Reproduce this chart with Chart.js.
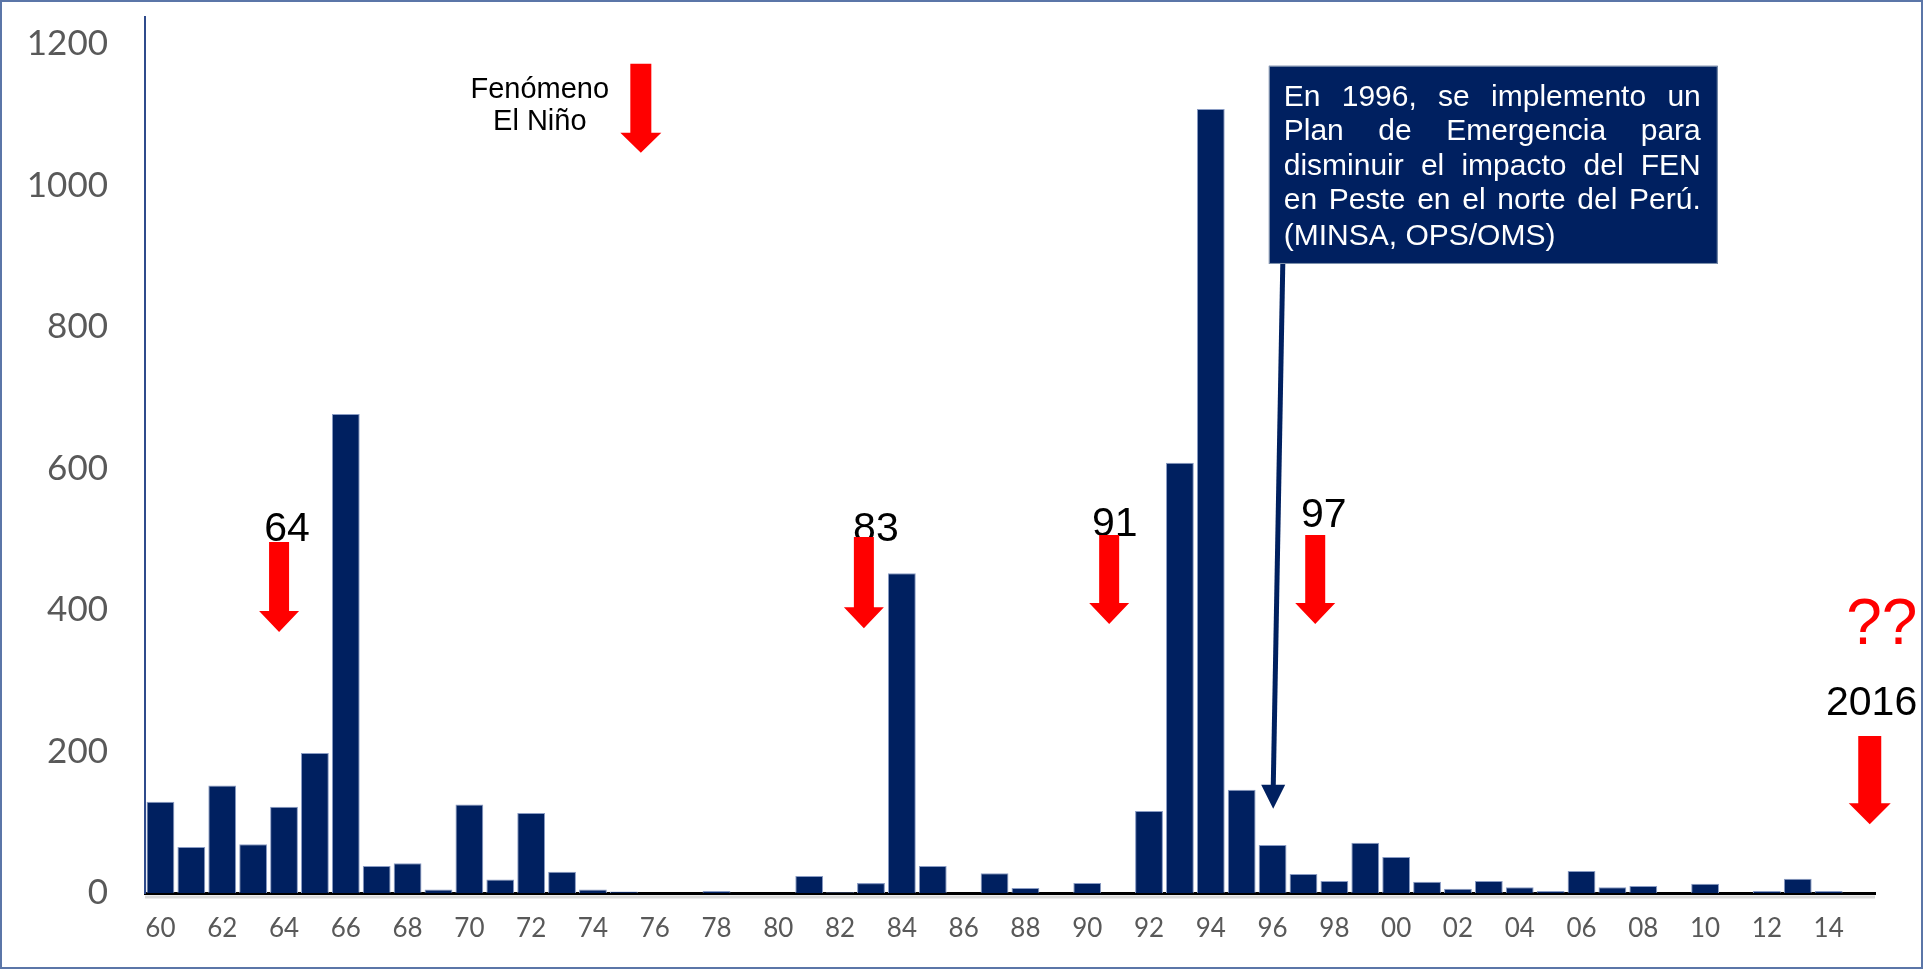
<!DOCTYPE html>
<html lang="es">
<head>
<meta charset="utf-8">
<title>Casos de peste - Perú</title>
<script src="https://cdn.jsdelivr.net/npm/chart.js@4.4.1/dist/chart.umd.min.js"></script>
<style>
    html, body { margin: 0; padding: 0; background: #ffffff; overflow: hidden; }
    canvas { display: block; }
</style>
</head>
<body>
<canvas id="pesteChart" width="1923" height="969"></canvas>
<script>
// años (dos dígitos) 1960 - 2015
const anios = [
    '60', '61', '62', '63', '64', '65', '66', '67', '68', '69',
    '70', '71', '72', '73', '74', '75', '76', '77', '78', '79',
    '80', '81', '82', '83', '84', '85', '86', '87', '88', '89',
    '90', '91', '92', '93', '94', '95', '96', '97', '98', '99',
    '00', '01', '02', '03', '04', '05', '06', '07', '08', '09',
    '10', '11', '12', '13', '14', '15'
];

// casos por año
const casos = [
    129, 65, 152, 69, 122, 198, 677, 38, 42, 5,
    125, 19, 113, 30, 5, 2, 0, 0, 3, 0,
    0, 24, 1, 14, 452, 38, 0, 28, 7, 0,
    14, 0, 116, 608, 1108, 146, 68, 27, 17, 71,
    51, 16, 6, 17, 8, 3, 31, 8, 10, 0,
    13, 0, 3, 20, 3, 0
];

const ticksY = [0, 200, 400, 600, 800, 1000, 1200];

// años con Fenómeno El Niño
const eventosNino = ['64', '83', '91', '97', '2016'];

const textoCaja = [
    'En 1996, se implemento un',
    'Plan de Emergencia para',
    'disminuir el impacto del FEN',
    'en Peste en el norte del Perú.',
    '(MINSA, OPS/OMS)'
];

const AZUL = '#002060';
const ROJO = '#ff0000';

function flechaRoja(ctx, cx, yTop, yTip, shaftW, headW, headL) {
    ctx.save();
    ctx.fillStyle = ROJO;
    ctx.beginPath();
    ctx.moveTo(cx - shaftW / 2, yTop);
    ctx.lineTo(cx + shaftW / 2, yTop);
    ctx.lineTo(cx + shaftW / 2, yTip - headL);
    ctx.lineTo(cx + headW / 2, yTip - headL);
    ctx.lineTo(cx, yTip);
    ctx.lineTo(cx - headW / 2, yTip - headL);
    ctx.lineTo(cx - shaftW / 2, yTip - headL);
    ctx.closePath();
    ctx.fill();
    ctx.restore();
}

function lineaJustificada(ctx, linea, x, y, ancho, justificar) {
    const palabras = linea.split(' ');
    if (!justificar || palabras.length < 2) {
        ctx.fillText(linea, x, y);
        return;
    }
    const total = palabras.reduce((s, p) => s + ctx.measureText(p).width, 0);
    const hueco = (ancho - total) / (palabras.length - 1);
    let px = x;
    palabras.forEach(p => {
        ctx.fillText(p, px, y);
        px += ctx.measureText(p).width + hueco;
    });
}

const anotaciones = {
    id: 'anotaciones',
    beforeDraw(chart) {
        const ctx = chart.ctx;
        ctx.save();
        ctx.fillStyle = '#ffffff';
        ctx.fillRect(0, 0, chart.width, chart.height);
        ctx.restore();
    },
    afterDatasetsDraw(chart) {
        const ctx = chart.ctx;
        const x = chart.scales.x;
        const y = chart.scales.y;
        const px = i => x.getPixelForValue(i);
        const py = v => y.getPixelForValue(v);

        // sombra gris bajo el eje X
        ctx.save();
        ctx.strokeStyle = '#d9d9d9';
        ctx.lineWidth = 3;
        ctx.beginPath();
        ctx.moveTo(x.left, y.bottom + 4);
        ctx.lineTo(x.right, y.bottom + 4);
        ctx.stroke();
        ctx.restore();

        // leyenda "Fenómeno El Niño"
        ctx.save();
        ctx.fillStyle = '#000000';
        ctx.font = '29px "Liberation Sans", Arial, sans-serif';
        ctx.textAlign = 'center';
        ctx.textBaseline = 'middle';
        ctx.fillText('Fenómeno', px(12.28), py(1135));
        ctx.fillText('El Niño', px(12.28), py(1090));
        ctx.restore();
        flechaRoja(ctx, px(15.55), py(1172), py(1046), 21, 41, 20);

        // flechas de los eventos El Niño
        const posiciones = [
            { tx: 4.10, ty: 514, ax: 3.84, top: 496, tip: 369 },
            { tx: 23.16, ty: 513, ax: 22.77, top: 503, tip: 374 },
            { tx: 30.89, ty: 520, ax: 30.71, top: 506, tip: 380 },
            { tx: 37.66, ty: 533, ax: 37.38, top: 506, tip: 380 },
            { tx: 55.39, ty: 268, ax: 55.33, top: 222, tip: 97 }
        ];
        eventosNino.forEach((txt, k) => {
            const p = posiciones[k];
            ctx.save();
            ctx.fillStyle = '#000000';
            ctx.font = '41px "Liberation Sans", Arial, sans-serif';
            ctx.textAlign = 'center';
            ctx.textBaseline = 'middle';
            ctx.fillText(txt, px(p.tx), py(p.ty));
            ctx.restore();
            const grande = k === posiciones.length - 1;
            flechaRoja(ctx, px(p.ax), py(p.top), py(p.tip), grande ? 23 : 20, grande ? 42 : 40, 21);
        });

        // signos de interrogación
        ctx.save();
        ctx.fillStyle = ROJO;
        ctx.font = '64px "Liberation Sans", Arial, sans-serif';
        ctx.textAlign = 'center';
        ctx.textBaseline = 'middle';
        ctx.fillText('??', px(55.72), py(377));
        ctx.restore();

        // línea conectora hacia 1996
        const lx0 = px(36.33), ly0 = py(889);
        const lx1 = px(36.02), ly1 = py(119);
        ctx.save();
        ctx.strokeStyle = AZUL;
        ctx.fillStyle = AZUL;
        ctx.lineWidth = 5;
        ctx.beginPath();
        ctx.moveTo(lx0, ly0);
        ctx.lineTo(lx1, ly1 - 20);
        ctx.stroke();
        ctx.beginPath();
        ctx.moveTo(lx1 - 12, ly1 - 24);
        ctx.lineTo(lx1 + 12, ly1 - 24);
        ctx.lineTo(lx1, ly1);
        ctx.closePath();
        ctx.fill();
        ctx.restore();

        // caja de texto
        const bx0 = px(35.88), bx1 = px(50.41);
        const by0 = py(1169), by1 = py(889);
        ctx.save();
        ctx.fillStyle = AZUL;
        ctx.fillRect(bx0, by0, bx1 - bx0, by1 - by0);
        ctx.strokeStyle = '#8497b0';
        ctx.lineWidth = 1;
        ctx.strokeRect(bx0 + 0.5, by0 + 0.5, bx1 - bx0 - 1, by1 - by0 - 1);
        ctx.fillStyle = '#ffffff';
        ctx.font = '30px "Liberation Sans", Arial, sans-serif';
        ctx.textAlign = 'left';
        ctx.textBaseline = 'middle';
        const tx0 = px(36.36), tx1 = px(49.86);
        const filas = [1124, 1076, 1027, 978, 928];
        textoCaja.forEach((linea, k) => {
            lineaJustificada(ctx, linea, tx0, py(filas[k]), tx1 - tx0, k < textoCaja.length - 1);
        });
        ctx.restore();
    },
    afterDraw(chart) {
        const ctx = chart.ctx;
        ctx.save();
        ctx.strokeStyle = '#5b76a8';
        ctx.lineWidth = 2;
        ctx.strokeRect(1, 1, chart.width - 2, chart.height - 2);
        ctx.restore();
    }
};

const ctx = document.getElementById('pesteChart').getContext('2d');
new Chart(ctx, {
    type: 'bar',
    data: {
        labels: anios,
        datasets: [{
            label: 'Casos de peste',
            data: casos,
            backgroundColor: AZUL,
            borderColor: '#8a9cc4',
            borderWidth: 1,
            categoryPercentage: 1.0,
            barPercentage: 0.9
        }]
    },
    options: {
        responsive: false,
        animation: false,
        layout: {
            padding: { left: 0, right: 48, top: 17, bottom: 0 }
        },
        scales: {
            x: {
                z: 1,
                grid: { display: false, drawTicks: false },
                border: { display: true, color: '#000000', width: 3 },
                afterFit: axis => {
                    axis.height = 76;
                    axis.paddingLeft = 0;
                    axis.paddingRight = 0;
                },
                ticks: {
                    autoSkip: false,
                    maxRotation: 0,
                    padding: 20,
                    color: '#595959',
                    font: { family: 'Lato, "Open Sans", sans-serif', size: 26 },
                    callback: function (v, i) {
                        return i % 2 === 0 ? this.getLabelForValue(v) : '';
                    }
                }
            },
            y: {
                min: 0,
                max: 1238,
                grid: { display: false, drawTicks: false },
                border: { display: true, color: '#2f4b8c', width: 2 },
                afterBuildTicks: axis => {
                    axis.ticks = ticksY.map(v => ({ value: v }));
                },
                afterFit: axis => {
                    axis.width = 145;
                    axis.paddingTop = 0;
                    axis.paddingBottom = 0;
                },
                ticks: {
                    padding: 37,
                    color: '#595959',
                    font: { family: 'Lato, "Open Sans", sans-serif', size: 35 },
                    callback: v => String(v)
                }
            }
        },
        plugins: {
            legend: { display: false },
            tooltip: { enabled: false }
        }
    },
    plugins: [anotaciones]
});
</script>
</body>
</html>
